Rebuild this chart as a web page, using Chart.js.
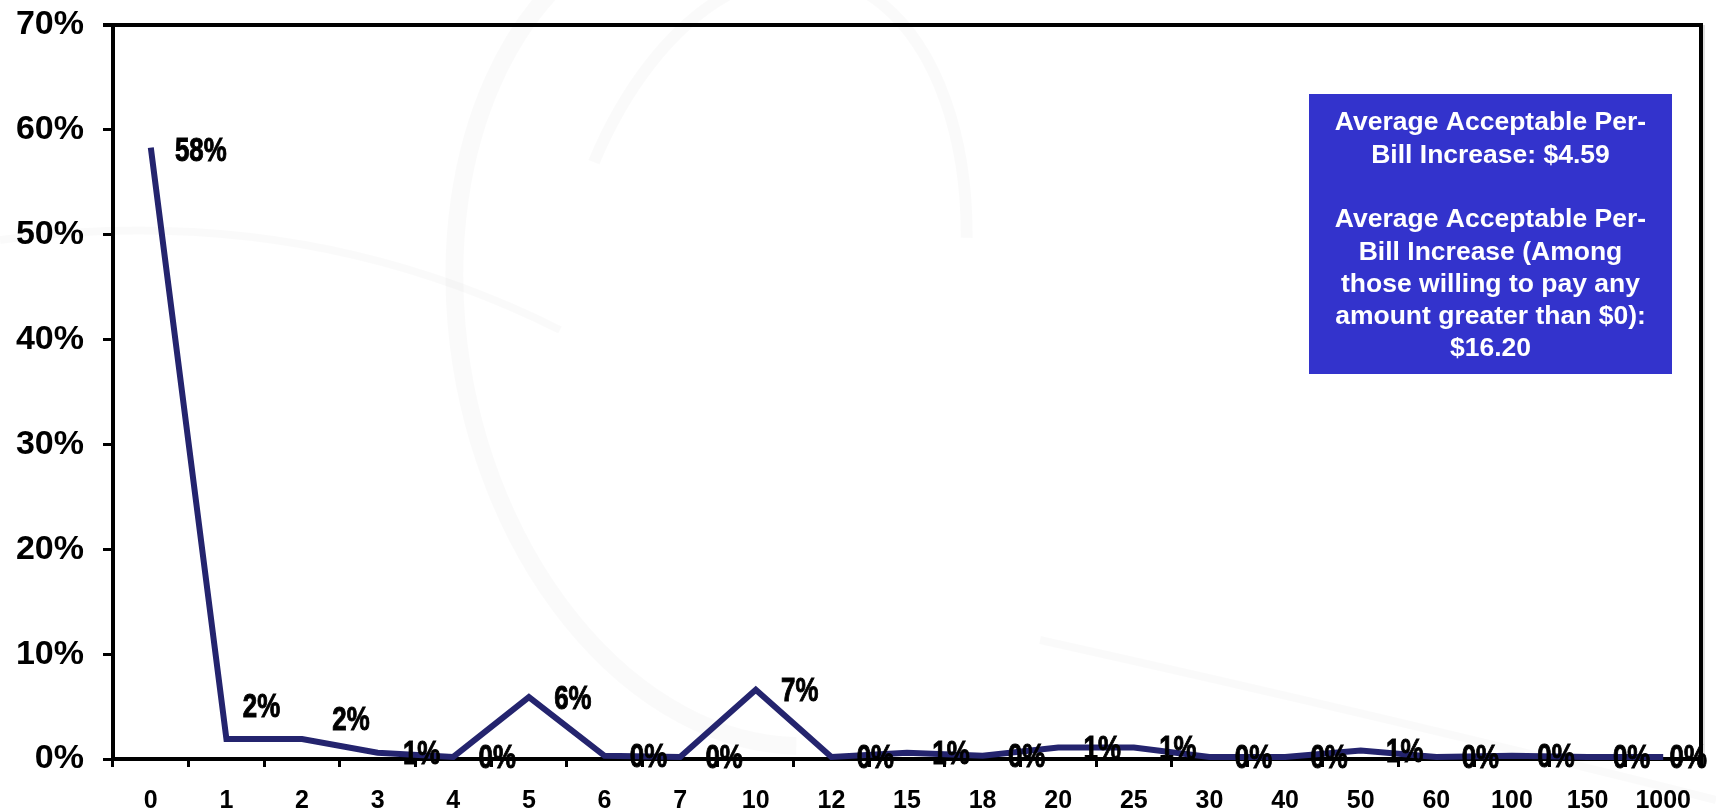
<!DOCTYPE html>
<html>
<head>
<meta charset="utf-8">
<script src="https://cdn.jsdelivr.net/npm/chart.js@4/dist/chart.umd.min.js"></script>
<style>
  html, body { margin: 0; padding: 0; background: #ffffff; }
  #wrap { width: 1716px; height: 810px; }
</style>
</head>
<body>
<div id="wrap"><canvas id="c" width="1716" height="810"></canvas></div>
<script>
// Per-bill increase amounts ($) and share of respondents (%)
const amounts = ['0', '1', '2', '3', '4', '5', '6', '7', '10', '12', '15', '18', '20', '25', '30', '40', '50', '60', '100', '150', '1000'];
const shares = [58.3, 1.9, 1.9, 0.6, 0.2, 5.9, 0.3, 0.2, 6.6, 0.2, 0.6, 0.3, 1.1, 1.1, 0.2, 0.2, 0.8, 0.2, 0.3, 0.2, 0.2];
const yTicks = [0, 10, 20, 30, 40, 50, 60, 70];
const noteLines = [
  'Average Acceptable Per-',
  'Bill Increase: $4.59',
  '',
  'Average Acceptable Per-',
  'Bill Increase (Among',
  'those willing to pay any',
  'amount greater than $0):',
  '$16.20'
];

const FONT = '"Liberation Sans", Arial, sans-serif';

// Faint decorative swooshes behind the plot
const backdrop = {
  id: 'backdrop',
  beforeDraw(chart) {
    const ctx = chart.ctx;
    ctx.save();
    ctx.fillStyle = '#ffffff';
    ctx.fillRect(0, 0, chart.width, chart.height);
    ctx.strokeStyle = 'rgba(0,0,0,0.018)';
    ctx.lineWidth = 18;
    ctx.beginPath();
    ctx.ellipse(760, 330, 300, 420, -0.2, Math.PI * 0.55, Math.PI * 1.45);
    ctx.stroke();
    ctx.lineWidth = 12;
    ctx.beginPath();
    ctx.ellipse(760, 300, 200, 330, 0.2, Math.PI * 1.1, Math.PI * 1.9);
    ctx.stroke();
    ctx.lineWidth = 8;
    ctx.beginPath();
    ctx.moveTo(1040, 640);
    ctx.quadraticCurveTo(1400, 720, 1716, 800);
    ctx.stroke();
    ctx.beginPath();
    ctx.moveTo(0, 240);
    ctx.quadraticCurveTo(300, 200, 560, 330);
    ctx.stroke();
    ctx.restore();
  }
};

// Top and right frame lines plus the callout box
const frameAndNote = {
  id: 'frameAndNote',
  afterDraw(chart) {
    const ctx = chart.ctx;
    const a = chart.chartArea;
    ctx.save();
    ctx.strokeStyle = '#000';
    ctx.lineWidth = 4;
    ctx.beginPath();
    ctx.moveTo(a.left - 10, a.top);
    ctx.lineTo(a.right, a.top);
    ctx.lineTo(a.right, a.bottom);
    ctx.stroke();
    ctx.strokeStyle = 'rgba(0,0,0,0.25)';
    ctx.lineWidth = 1;
    ctx.beginPath();
    ctx.moveTo(a.right + 3, a.top);
    ctx.lineTo(a.right + 3, a.bottom);
    ctx.stroke();

    // callout box
    const bx = 1309, by = 94, bw = 363, bh = 280;
    ctx.fillStyle = '#3333cc';
    ctx.fillRect(bx, by, bw, bh);
    ctx.fillStyle = '#ffffff';
    ctx.font = 'bold 26.5px ' + FONT;
    ctx.textAlign = 'center';
    ctx.textBaseline = 'middle';
    const cx = bx + bw / 2;
    noteLines.forEach((t, i) => {
      ctx.fillText(t, cx, 123 + i * 32.3);
    });
    ctx.restore();
  }
};

// Percentage labels to the right of each point
const pointLabels = {
  id: 'pointLabels',
  afterDatasetsDraw(chart, args, opts) {
    const ctx = chart.ctx;
    const meta = chart.getDatasetMeta(0);
    const vals = chart.data.datasets[0].data;
    ctx.save();
    ctx.font = 'bold 34px ' + FONT;
    ctx.fillStyle = '#000';
    ctx.strokeStyle = '#000';
    ctx.lineWidth = 1;
    ctx.textAlign = 'center';
    ctx.textBaseline = 'middle';
    meta.data.forEach((pt, i) => {
      const adj = opts.adjust[i] || [0, 0];
      const x = pt.x + opts.dx + adj[0];
      const y = pt.y + 2 + adj[1];
      const txt = Math.round(vals[i]) + '%';
      ctx.save();
      ctx.translate(x, y);
      ctx.scale(0.76, 1);
      ctx.fillText(txt, 0, 0);
      ctx.strokeText(txt, 0, 0);
      ctx.restore();
    });
    ctx.restore();
  }
};

new Chart(document.getElementById('c'), {
  type: 'line',
  data: {
    labels: amounts,
    datasets: [{
      data: shares,
      borderColor: '#24246e',
      borderWidth: 6,
      pointRadius: 0,
      tension: 0,
      fill: false,
      clip: false
    }]
  },
  options: {
    responsive: false,
    animation: false,
    devicePixelRatio: 1,
    layout: { padding: { top: 25, right: 15, left: 0, bottom: 0 } },
    plugins: {
      legend: { display: false },
      tooltip: { enabled: false },
      pointLabels: {
        dx: 44,
        adjust: { 0: [6, 2], 1: [-9, -33], 2: [5, -20], 20: [-19, 0] }
      }
    },
    scales: {
      x: {
        type: 'category',
        offset: true,
        grid: {
          offset: true,
          drawOnChartArea: false,
          drawTicks: true,
          tickLength: 8,
          color: '#000',
          lineWidth: 3
        },
        border: { display: true, color: '#000', width: 4 },
        ticks: {
          color: '#000',
          font: { family: FONT, size: 25, weight: 'bold' },
          padding: 19,
          maxRotation: 0,
          autoSkip: false
        },
        afterFit(scale) {
          scale.height = 51;
          scale.paddingLeft = 0;
          scale.paddingRight = 0;
        }
      },
      y: {
        min: 0,
        max: 70,
        afterBuildTicks(scale) { scale.ticks = yTicks.map(v => ({ value: v })); },
        grid: {
          drawOnChartArea: false,
          drawTicks: true,
          tickLength: 10,
          color: '#000',
          lineWidth: 3
        },
        border: { display: true, color: '#000', width: 4 },
        ticks: {
          color: '#000',
          font: { family: FONT, size: 34, weight: 'bold' },
          padding: 19,
          callback: v => v + '%'
        },
        afterFit(scale) {
          scale.width = 113;
          scale.paddingTop = 0;
          scale.paddingBottom = 0;
        }
      }
    }
  },
  plugins: [backdrop, frameAndNote, pointLabels]
});
</script>
</body>
</html>
